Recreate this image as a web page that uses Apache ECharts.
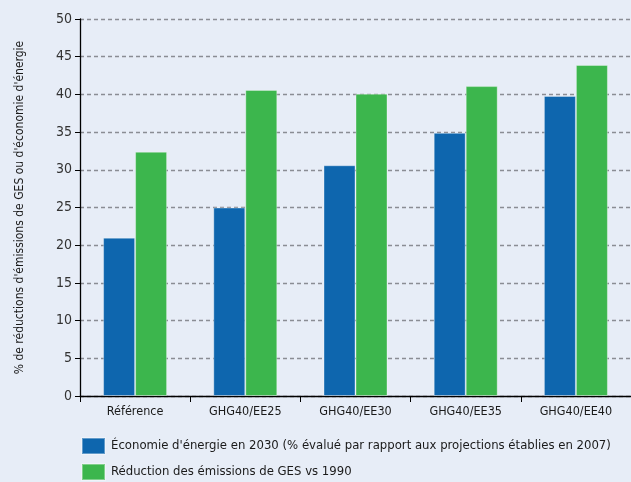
<!DOCTYPE html>
<html>
<head>
<meta charset="utf-8">
<script src="https://cdn.jsdelivr.net/npm/echarts@6/dist/echarts.min.js"></script>
<style>
  html, body { margin: 0; padding: 0; background: #e7edf7; }
  #chart { width: 631px; height: 482px; }
</style>
</head>
<body>
<div id="chart"></div>
<script>
// scenarios on the x axis
const categories = ['Référence', 'GHG40/EE25', 'GHG40/EE30', 'GHG40/EE35', 'GHG40/EE40']
// energy savings in 2030
const energySaving = [21, 25, 30.6, 34.9, 39.8]
// GHG reduction vs 1990
const ghgReduction = [32.4, 40.6, 40.1, 41.1, 43.9]

const seriesNames = [
    'Économie d\'énergie en 2030 (% évalué par rapport aux projections établies en 2007)',
    'Réduction des émissions de GES vs 1990'
]

const font = "'DejaVu Sans Condensed', 'Liberation Sans Narrow', sans-serif"

const chart = echarts.init(document.getElementById('chart'))

const option = {
    backgroundColor: '#e7edf7',
    animation: false,
    textStyle: { fontFamily: font },
    grid: { left: 80, right: 0, top: 19, bottom: 86 },
    legend: {
        type: 'plain',
        orient: 'vertical',
        left: 81,
        top: 437,
        padding: 0,
        itemWidth: 23,
        itemHeight: 16,
        itemGap: 8,
        icon: 'rect',
        textStyle: { fontFamily: font, fontSize: 13, color: '#1a1a1a', padding: [0, 0, 0, 1] },
        data: seriesNames
    },
    xAxis: {
        type: 'category',
        data: categories,
        axisLine: { lineStyle: { color: '#000', width: 1.3 } },
        axisTick: { show: true, length: 6, lineStyle: { color: '#000' } },
        axisLabel: { color: '#1a1a1a', fontSize: 12.5, margin: 9, fontFamily: font }
    },
    yAxis: {
        type: 'value',
        min: 0,
        max: 50,
        interval: 5,
        name: '% de réductions d\'émissions de GES ou d\'économie d\'énergie',
        nameLocation: 'middle',
        nameGap: 54,
        nameTextStyle: { color: '#1a1a1a', fontSize: 12, fontFamily: font },
        axisLine: { show: true, lineStyle: { color: '#000', width: 1.3 } },
        axisTick: { show: true, length: 5, lineStyle: { color: '#000' } },
        axisLabel: { color: '#333', fontSize: 14, margin: 8, fontFamily: font },
        splitLine: { lineStyle: { color: '#8a8d94', type: [4, 3], width: 1.3 } }
    },
    series: [
        {
            name: seriesNames[0],
            type: 'bar',
            data: energySaving,
            barWidth: 32,
            barGap: '0%',
            itemStyle: { color: '#0e66ae', borderColor: 'rgba(255,255,255,0.35)', borderWidth: 1 }
        },
        {
            name: seriesNames[1],
            type: 'bar',
            data: ghgReduction,
            barWidth: 32,
            barGap: '0%',
            itemStyle: { color: '#3cb64d', borderColor: 'rgba(255,255,255,0.35)', borderWidth: 1 }
        }
    ]
}

chart.setOption(option)
</script>
</body>
</html>
